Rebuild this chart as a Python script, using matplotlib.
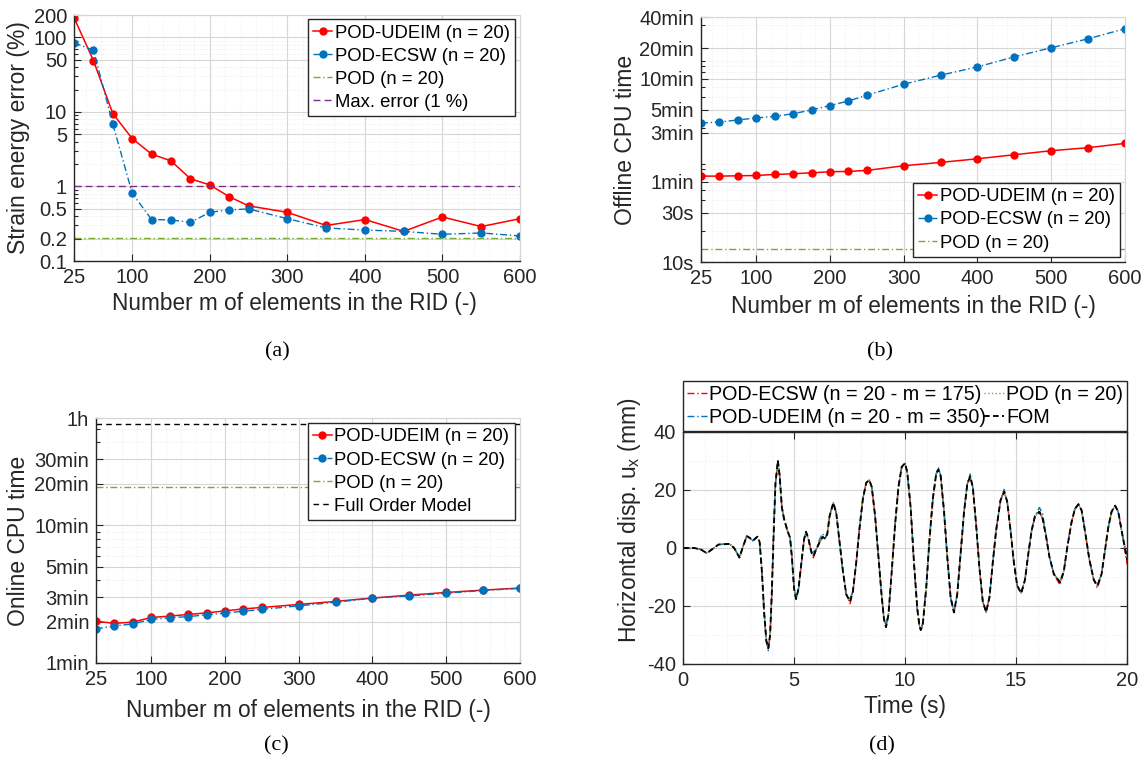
import numpy as np
import matplotlib.pyplot as plt
from matplotlib.ticker import FixedLocator, FixedFormatter, NullFormatter, LogLocator, MultipleLocator

plt.rcParams['font.family'] = ['Liberation Sans', 'DejaVu Sans']
plt.rcParams['axes.unicode_minus'] = False
plt.rcParams['mathtext.fontset'] = 'custom'
plt.rcParams['mathtext.rm'] = 'Liberation Sans'

# MATLAB default colours
RED = '#FF0000'
BLUE = '#0072BD'
GREEN = '#77AC30'
PURPLE = '#7E2F8E'

# ---- data ----
m_elements = [25, 50, 75, 100, 125, 150, 175, 200, 225, 250, 300, 350, 400, 450, 500, 550, 600]

# (a) strain energy error (%)
err_udeim = [184, 49, 9.5, 4.4, 2.72, 2.21, 1.27, 1.05, 0.73, 0.55, 0.45, 0.30, 0.36, 0.25, 0.39, 0.29, 0.37]
err_ecsw = [85, 67.5, 6.9, 0.81, 0.36, 0.356, 0.33, 0.45, 0.485, 0.50, 0.37, 0.278, 0.26, 0.25, 0.228, 0.238, 0.217]
err_pod = 0.206
err_max = 1.0

# (b) offline CPU time (s)
offline_udeim = [68.3, 68.3, 68.8, 69.3, 70.9, 72.0, 73.6, 75.3, 75.9, 77.6, 86.1, 92.8, 100.7, 110.2, 120.6, 129, 142.1]
offline_ecsw = [224, 229, 240, 251, 260, 276, 300, 331, 367, 417, 534, 653, 787, 985, 1206, 1475, 1846]
offline_pod = 13.4
offline_ticks = [10, 30, 60, 180, 300, 600, 1200, 2400]
offline_labels = ['10s', '30s', '1min', '3min', '5min', '10min', '20min', '40min']

# (c) online CPU time (min)
online_udeim = [2.01, 1.94, 1.98, 2.14, 2.19, 2.25, 2.31, 2.39, 2.47, 2.53, 2.66, 2.80, 2.96, 3.11, 3.25, 3.38, 3.50]
online_ecsw = [1.77, 1.86, 1.92, 2.07, 2.13, 2.17, 2.24, 2.30, 2.38, 2.45, 2.60, 2.76, 2.96, 3.07, 3.21, 3.36, 3.48]
online_pod = 19.1
online_fom = 54.6
online_ticks = [1, 2, 3, 5, 10, 20, 30, 60]
online_labels = ['1min', '2min', '3min', '5min', '10min', '20min', '30min', '1h']

# (d) horizontal displacement (mm) of the full order model
t_fom = [0.0, 0.5, 0.8, 1.07, 1.3, 1.6, 2.1, 2.3, 2.54, 2.7, 2.87, 3.0, 3.14, 3.35, 3.45, 3.55,
         3.65, 3.75, 3.84, 3.92, 4.0, 4.08, 4.16, 4.27, 4.35, 4.45, 4.55, 4.7, 4.82, 4.9, 5.0,
         5.09, 5.2, 5.35, 5.45, 5.54, 5.65, 5.78, 5.87, 6.0, 6.15, 6.29, 6.4, 6.5, 6.6, 6.77,
         6.9, 7.05, 7.2, 7.35, 7.52, 7.65, 7.8, 7.95, 8.1, 8.25, 8.39, 8.5, 8.65, 8.8, 8.95,
         9.05, 9.14, 9.25, 9.4, 9.55, 9.7, 9.85, 10.0, 10.1, 10.25, 10.4, 10.55, 10.65, 10.71,
         10.8, 10.95, 11.1, 11.25, 11.4, 11.5, 11.6, 11.75, 11.9, 12.05, 12.2, 12.35, 12.5,
         12.65, 12.8, 12.93, 13.05, 13.2, 13.35, 13.5, 13.65, 13.8, 13.95, 14.1, 14.3, 14.46,
         14.6, 14.75, 14.9, 15.05, 15.23, 15.4, 15.55, 15.7, 15.85, 16.05, 16.2, 16.35, 16.5,
         16.7, 16.98, 17.15, 17.3, 17.5, 17.65, 17.81, 17.95, 18.1, 18.3, 18.5, 18.66, 18.85,
         19.0, 19.15, 19.3, 19.46, 19.6, 19.8, 20.0]
u_fom = [0.0, 0.0, -0.5, -1.8, -0.5, 1.2, 1.4, 0.0, -3.3, 0.5, 4.1, 3.5, 2.5, 3.9, 2.0, -8,
         -22, -32, -34.6, -30, -15, 5, 22, 30.1, 25, 14, 10, 6, 3.5, -3, -14,
         -17.6, -14, -4, 3, 5.6, 3, -1.5, -2.8, -0.5, 2, 3.8, 3.2, 5, 11, 15.6,
         12, 2, -8, -16, -18.5, -15, -5, 7, 17, 22.5, 23.4, 21, 11, -3, -17,
         -24.5, -27.3, -23, -8, 8, 21, 28, 29.2, 26, 14, -5, -21, -27, -28.3,
         -26, -14, 3, 17, 25.5, 27.1, 25, 13, -3, -17, -22.2, -16, -2,
         12, 22, 24.6, 21, 8, -7, -18.5, -22.1, -17, -5, 6, 16.5, 19.4,
         16, 6, -5, -13, -15.6, -11, -2, 6, 11, 12.5, 10, 4, -3,
         -9, -11.8, -8, 0, 9, 13.5, 15.1, 13, 6, -4, -11, -13, -9,
         -1, 7, 12.5, 14.6, 12.5, 4, -4.1]
# points where the reduced models visibly depart from the FOM
ecsw_diff = {5.87: -3.4, 7.52: -19.2, 10.71: -28.6, 16.98: -12.8, 18.66: -13.9, 20.0: -5.6}
udeim_diff = {3.84: -35.4, 5.87: -1.4, 6.29: 5.0, 6.15: 3.0, 7.52: -17.6, 9.14: -26.2,
              11.5: 27.8, 12.93: 25.5, 14.46: 20.2, 16.05: 14.0, 16.2: 11.6, 20.0: -2.6}
pod_diff = {16.05: 13.0, 20.0: -3.8}

u_ecsw = [ecsw_diff.get(t, u) for t, u in zip(t_fom, u_fom)]
u_udeim = [udeim_diff.get(t, u) for t, u in zip(t_fom, u_fom)]
u_pod = [pod_diff.get(t, u) for t, u in zip(t_fom, u_fom)]

DASHDOT = (0, (5, 2, 1, 2))


def matlab_style(ax, box=False, ylog=True):
    ax.set_axisbelow(True)
    ax.tick_params(which='both', direction='in', top=box, right=box, labelsize=14.5,
                   color='#262626', labelcolor='#262626', width=0.8, pad=5)
    ax.tick_params(which='major', length=5)
    ax.tick_params(axis='x', which='minor', length=0)
    ax.tick_params(axis='y', which='minor', length=3 if ylog else 0)
    ax.grid(which='major', color='#d6d6d6', lw=0.8)
    ax.grid(which='minor', color='#ebebeb', lw=0.6, ls=':')
    for s in ['left', 'bottom']:
        ax.spines[s].set_color('#262626')
        ax.spines[s].set_linewidth(1.0)
    for s in ['top', 'right']:
        if box:
            ax.spines[s].set_color('#262626')
            ax.spines[s].set_linewidth(1.0)
        else:
            ax.spines[s].set_color('#d6d6d6')
            ax.spines[s].set_linewidth(0.8)


def m_axis(ax):
    ax.set_xlim(25, 600)
    ax.xaxis.set_major_locator(FixedLocator([25, 100, 200, 300, 400, 500, 600]))
    ax.xaxis.set_minor_locator(MultipleLocator(20))
    ax.set_xlabel('Number m of elements in the RID (-)', fontsize=16.3, color='#262626')


def legend_box(leg):
    leg.get_frame().set_edgecolor('#262626')
    leg.get_frame().set_linewidth(1.0)


LEG = dict(borderaxespad=0, fontsize=13.3, handlelength=1.0, handletextpad=0.15,
           labelspacing=0.33, borderpad=0.3, fancybox=False, framealpha=1)

fig = plt.figure(figsize=(11.48, 7.67), dpi=100)

# ---- (a) ----
ax1 = fig.add_axes([0.0645, 0.6597, 0.3885, 0.3207])
ax1.set_yscale('log')
ax1.plot(m_elements, err_udeim, '-', color=RED, lw=1.1, marker='o', ms=5, label='POD-UDEIM (n = 20)')
ax1.plot(m_elements, err_ecsw, ls=DASHDOT, color=BLUE, lw=1.0, marker='o', ms=5, label='POD-ECSW (n = 20)')
ax1.axhline(err_pod, color=GREEN, ls=DASHDOT, lw=1.0, label='POD (n = 20)')
ax1.axhline(err_max, color=PURPLE, ls=(0, (5, 3)), lw=1.0, label='Max. error (1 %)')
m_axis(ax1)
ax1.set_ylim(0.1, 200)
a_ticks = [0.1, 0.2, 0.5, 1, 5, 10, 50, 100, 200]
ax1.yaxis.set_major_locator(FixedLocator(a_ticks))
ax1.yaxis.set_major_formatter(FixedFormatter(['0.1', '0.2', '0.5', '1', '5', '10', '50', '100', '200']))
ax1.yaxis.set_minor_locator(LogLocator(subs=range(2, 10)))
ax1.yaxis.set_minor_formatter(NullFormatter())
ax1.set_ylabel('Strain energy error (%)', fontsize=16.5, color='#262626')
matlab_style(ax1)
ax1.xaxis.set_label_coords(0.495, -0.126)
ax1.yaxis.set_label_coords(-0.099, 0.5)
leg = ax1.legend(loc='upper right', bbox_to_anchor=(0.989, 0.984), **LEG)
legend_box(leg)

# ---- (b) ----
ax2 = fig.add_axes([0.6106, 0.6584, 0.3693, 0.3194])
ax2.set_yscale('log')
ax2.plot(m_elements, offline_udeim, '-', color=RED, lw=1.1, marker='o', ms=5, label='POD-UDEIM (n = 20)')
ax2.plot(m_elements, offline_ecsw, ls=DASHDOT, color=BLUE, lw=1.0, marker='o', ms=5, label='POD-ECSW (n = 20)')
ax2.axhline(offline_pod, color=GREEN, ls=DASHDOT, lw=1.0, label='POD (n = 20)')
m_axis(ax2)
ax2.set_ylim(10, 2400)
ax2.yaxis.set_major_locator(FixedLocator(offline_ticks))
ax2.yaxis.set_major_formatter(FixedFormatter(offline_labels))
ax2.yaxis.set_minor_locator(LogLocator(subs=range(2, 10)))
ax2.yaxis.set_minor_formatter(NullFormatter())
ax2.set_ylabel('Offline CPU time', fontsize=16.5, color='#262626')
matlab_style(ax2)
ax2.xaxis.set_label_coords(0.5, -0.135)
ax2.yaxis.set_label_coords(-0.151, 0.5)
leg = ax2.legend(loc='lower right', bbox_to_anchor=(0.989, 0.02), **LEG)
legend_box(leg)

# ---- (c) ----
ax3 = fig.add_axes([0.0836, 0.1356, 0.3693, 0.3194])
ax3.set_yscale('log')
ax3.plot(m_elements, online_udeim, '-', color=RED, lw=1.1, marker='o', ms=5, label='POD-UDEIM (n = 20)')
ax3.plot(m_elements, online_ecsw, ls=DASHDOT, color=BLUE, lw=1.0, marker='o', ms=5, label='POD-ECSW (n = 20)')
ax3.axhline(online_pod, color=GREEN, ls=DASHDOT, lw=1.0, label='POD (n = 20)')
ax3.axhline(online_fom, color='black', ls=(0, (4, 3)), lw=1.0, label='Full Order Model')
m_axis(ax3)
ax3.set_ylim(1, 60)
ax3.yaxis.set_major_locator(FixedLocator(online_ticks))
ax3.yaxis.set_major_formatter(FixedFormatter(online_labels))
ax3.yaxis.set_minor_locator(LogLocator(subs=range(2, 10)))
ax3.yaxis.set_minor_formatter(NullFormatter())
ax3.set_ylabel('Online CPU time', fontsize=16.5, color='#262626')
matlab_style(ax3)
ax3.xaxis.set_label_coords(0.5, -0.147)
ax3.yaxis.set_label_coords(-0.156, 0.5)
leg = ax3.legend(loc='upper right', bbox_to_anchor=(0.988, 0.98), **LEG)
legend_box(leg)

# ---- (d) ----
ax4 = fig.add_axes([0.595, 0.1343, 0.3868, 0.3025])
ax4.plot(t_fom, u_ecsw, ls=DASHDOT, color=RED, lw=1.0, label='POD-ECSW (n = 20 - m = 175)')
ax4.plot(t_fom, u_udeim, ls=DASHDOT, color=BLUE, lw=1.0, label='POD-UDEIM (n = 20 - m = 350)')
ax4.plot(t_fom, u_pod, ls=':', color=GREEN, lw=1.0, label='POD (n = 20)')
ax4.plot(t_fom, u_fom, ls=(0, (3, 1.8)), color='black', lw=1.35, label='FOM')
ax4.set_xlim(0, 20)
ax4.set_ylim(-40, 40)
ax4.xaxis.set_major_locator(MultipleLocator(5))
ax4.xaxis.set_minor_locator(MultipleLocator(1))
ax4.yaxis.set_major_locator(MultipleLocator(20))
ax4.yaxis.set_minor_locator(MultipleLocator(10))
ax4.set_xlabel('Time (s)', fontsize=16.3, color='#262626')
ax4.set_ylabel('Horizontal disp. u$_\\mathregular{x}$ (mm)', fontsize=16.5, color='#262626')
matlab_style(ax4, box=True, ylog=False)
ax4.xaxis.set_label_coords(0.5, -0.134)
ax4.yaxis.set_label_coords(-0.09, 0.62)
leg = ax4.legend(loc='lower left', bbox_to_anchor=(0, 1.005, 1, 0.215), mode='expand', ncol=2,
                 borderaxespad=0, fontsize=14.2, handlelength=1.0, handletextpad=0.12,
                 columnspacing=0.1, labelspacing=0.2, borderpad=0.2,
                 fancybox=False, framealpha=1)
legend_box(leg)

# captions
for x, y, s in [(0.242, 0.541, '(a)'), (0.7666, 0.541, '(b)'), (0.241, 0.0274, '(c)'), (0.768, 0.0274, '(d)')]:
    fig.text(x, y, s, ha='center', va='center', fontsize=16, family='Liberation Serif')

fig.savefig('out.png', dpi=100)
